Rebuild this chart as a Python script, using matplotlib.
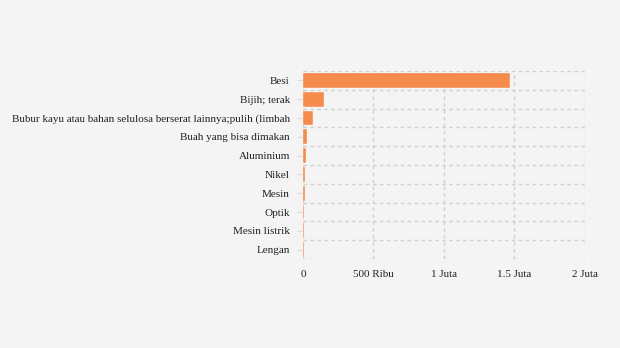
import matplotlib
matplotlib.use("Agg")
import matplotlib.pyplot as plt
import numpy as np

categories = ["Besi", "Bijih; terak",
              "Bubur kayu atau bahan selulosa berserat lainnya;pulih (limbah",
              "Buah yang bisa dimakan", "Aluminium", "Nikel", "Mesin", "Optik",
              "Mesin listrik", "Lengan"]
values = [1466000, 147000, 69000, 26000, 19000, 12000, 12000, 5000, 4000, 4000]
xticks = [0, 500000, 1000000, 1500000, 2000000]
xticklabels = ["0", "500 Ribu", "1 Juta", "1.5 Juta", "2 Juta"]

plt.rcParams['font.family'] = ['Liberation Serif', 'DejaVu Serif']
bg = "#f4f4f4"
fig = plt.figure(figsize=(6.2, 3.48), dpi=100, facecolor=bg)
ax = fig.add_axes([0.4887, 0.2557, 0.4548, 0.5403], facecolor=bg)

n = len(categories)
y = np.arange(n)
ax.barh(y, values, height=0.78, color="#f58c4e", edgecolor="white", linewidth=0.25, zorder=3)
ax.set_ylim(n - 0.5, -0.5)
ax.set_xlim(0, 2000000)
ax.set_yticks(y)
ax.set_yticklabels(categories, fontsize=8, color="#222222")
ax.set_xticks(xticks)
ax.set_xticklabels(xticklabels, fontsize=8, color="#222222")
ax.set_yticks(np.arange(-0.5, n, 1), minor=True)
ax.tick_params(axis='y', which='major', length=4.5, color="#dddddd", pad=5)
ax.tick_params(axis='y', which='minor', length=0)
ax.tick_params(axis='x', length=0, pad=8)
ax.grid(axis='x', which='major', color="#d0d0d0", linestyle=(0, (2.5, 2.5)), linewidth=1, zorder=0)
ax.grid(axis='y', which='minor', color="#d0d0d0", linestyle=(0, (2.5, 2.5)), linewidth=1, zorder=0)
for s in ax.spines.values():
    s.set_visible(False)

fig.savefig("out.png", dpi=100, facecolor=bg)
